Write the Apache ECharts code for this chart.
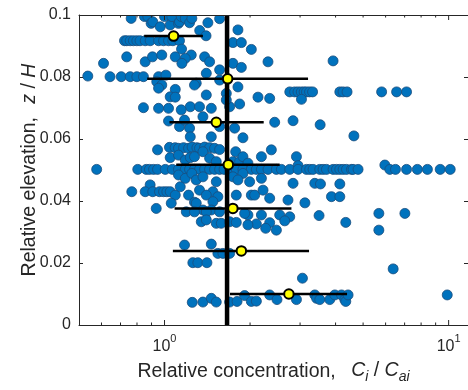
<!DOCTYPE html>
<html><head><meta charset="utf-8">
<script src="https://cdn.jsdelivr.net/npm/echarts@6/dist/echarts.min.js"></script>
<style>html,body{margin:0;padding:0;background:#fff}#c{width:468px;height:390px}</style>
</head><body><div id="c"></div>
<script>
// ---- data ----
const xMin = 0.5, xMax = 11.7;
const yMin = 0, yMax = 0.1, yStep = 0.02;
const xMajorTicks = [1, 10];
const xMinorTicks = [0.6, 0.7, 0.8, 0.9, 2, 3, 4, 5, 6, 7, 8, 9];

const ptsTop = [[0.763,0.0989],[0.850,0.0995],[0.873,0.0995],[0.897,0.0973],[0.909,0.0978],[0.966,0.0962],[1.000,0.0995],[1.047,0.0968],[1.061,0.0995],[1.120,0.0973],[1.129,0.0978],[1.145,0.0995],[1.183,0.0989],[1.225,0.0975],[1.248,0.0989],[1.330,0.0950],[1.400,0.0933],[1.421,0.0975],[1.563,0.0988],[1.813,0.0952],[1.741,0.0911],[1.864,0.0911],[2.021,0.0889]];
const pts092 = [[0.723,0.0917],[0.736,0.0917],[0.757,0.0917],[0.777,0.0917],[0.799,0.0917],[0.820,0.0917],[0.855,0.0917],[0.890,0.0917],[0.953,0.0917],[0.992,0.0917],[1.033,0.0917],[1.070,0.0917],[1.129,0.0917]];
const pts086 = [[1.148,0.0890],[1.242,0.0871],[0.736,0.0865],[0.855,0.0849],[0.907,0.0865],[0.978,0.0871],[1.091,0.0865],[1.183,0.0860],[1.151,0.0844],[0.610,0.0844],[1.384,0.0865],[1.441,0.0849],[1.741,0.0844],[1.864,0.0831],[2.313,0.0849],[1.563,0.0823],[1.403,0.0812],[1.293,0.0780],[3.920,0.0852]];
const pts076 = [[0.537,0.0803],[0.643,0.0801],[0.704,0.0801],[0.757,0.0801],[0.799,0.0801],[0.843,0.0801],[0.953,0.0801],[1.011,0.0806],[0.939,0.0785],[0.978,0.0774],[0.953,0.0764],[1.091,0.0760],[1.047,0.0736],[1.091,0.0735],[0.843,0.0701],[0.953,0.0699],[1.033,0.0699],[1.232,0.0704],[1.275,0.0774],[1.403,0.0742],[1.563,0.0790],[1.145,0.0694],[1.328,0.0704],[1.461,0.0699],[1.695,0.0704],[1.813,0.0768],[1.650,0.0747],[2.133,0.0735],[2.345,0.0731],[1.838,0.0713],[1.650,0.0726]];
const pts075R = [[2.76,0.0752],[2.87,0.0752],[2.95,0.0752],[3.03,0.0752],[3.10,0.0752],[3.16,0.0752],[3.24,0.0752],[3.32,0.0752],[3.034,0.0728],[4.14,0.0752],[4.25,0.0752],[4.39,0.0752],[5.81,0.0752],[6.56,0.0752],[7.11,0.0752]];
const pts064 = [[1.033,0.0658],[1.129,0.0640],[1.225,0.0635],[1.365,0.0672],[1.563,0.0640],[1.765,0.0635],[1.176,0.0661],[1.232,0.0607],[1.461,0.0607],[1.888,0.0604],[2.442,0.0654],[2.834,0.0659],[3.530,0.0646],[4.640,0.0610]];
const pts057 = [[0.945,0.0565],[1.041,0.0573],[1.090,0.0572],[1.120,0.0570],[1.167,0.0572],[1.215,0.0570],[1.250,0.0574],[1.300,0.0572],[1.328,0.0570],[1.384,0.0574],[1.441,0.0572],[1.500,0.0570],[1.563,0.0566],[1.780,0.0559],[2.377,0.0565]];
const pts054 = [[1.047,0.0540],[1.120,0.0548],[1.183,0.0532],[1.232,0.0540],[1.275,0.0543],[1.365,0.0559],[1.441,0.0538],[1.521,0.0527],[1.741,0.0527],[1.838,0.0527],[1.888,0.0543],[1.966,0.0522],[2.193,0.0543],[2.913,0.0543],[2.951,0.0514]];
const pts050 = [[0.577,0.0502],[0.805,0.0502],[0.862,0.0502],[0.885,0.0502],[0.915,0.0502],[0.945,0.0502],[1.006,0.0502],[1.066,0.0502],[1.120,0.0502],[1.183,0.0502],[1.225,0.0502],[1.275,0.0502],[1.328,0.0502],[1.384,0.0502],[1.441,0.0502],[1.500,0.0502],[1.563,0.0502],[1.620,0.0502],[1.700,0.0502],[1.750,0.0502],[1.789,0.0502],[1.888,0.0502],[2.021,0.0502],[2.105,0.0502],[2.193,0.0502],[2.313,0.0502],[2.476,0.0502],[2.578,0.0502],[2.759,0.0502],[2.951,0.0502],[3.159,0.0502],[3.245,0.0502],[3.333,0.0502],[3.519,0.0502],[3.614,0.0502],[3.715,0.0502],[3.920,0.0502],[4.030,0.0502],[4.140,0.0502],[4.252,0.0502],[4.370,0.0502],[4.550,0.0502],[4.610,0.0502],[4.800,0.0502],[5.964,0.0516],[6.21,0.0502],[6.50,0.0502],[7.11,0.0502],[7.76,0.0502],[8.42,0.0502],[9.34,0.0502],[10.13,0.0502]];
const pts047 = [[1.120,0.0484],[1.183,0.0473],[1.248,0.0489],[1.741,0.0478],[1.888,0.0489],[1.993,0.0462],[2.193,0.0473],[2.834,0.0457],[1.293,0.0468],[1.365,0.0478],[1.521,0.0462],[3.380,0.0457],[3.539,0.0455],[4.140,0.0455],[1.813,0.0468]];
const pts043 = [[0.890,0.0452],[0.767,0.0430],[0.855,0.0430],[0.909,0.0430],[0.960,0.0430],[0.992,0.0430],[1.019,0.0430],[1.047,0.0430],[1.091,0.0419],[1.136,0.0446],[1.215,0.0419],[1.328,0.0435],[1.480,0.0430],[1.541,0.0414],[1.403,0.0419],[1.789,0.0419],[2.021,0.0419],[2.076,0.0419],[2.222,0.0435],[2.345,0.0409],[2.720,0.0403],[3.120,0.0394],[1.275,0.0396],[1.480,0.0398],[3.869,0.0414],[4.140,0.0414]];
const pts035 = [[0.935,0.0376],[1.056,0.0393],[1.193,0.0365],[1.293,0.0393],[1.365,0.0371],[1.347,0.0333],[1.461,0.0371],[1.521,0.0328],[1.584,0.0328],[1.695,0.0333],[1.563,0.0365],[1.403,0.0365],[1.275,0.0365],[1.966,0.0355],[2.193,0.0355],[2.543,0.0355],[2.759,0.0349],[1.403,0.0339],[3.499,0.0353],[5.681,0.0360],[7.015,0.0360],[5.681,0.0306],[4.345,0.0331],[2.649,0.0336],[2.345,0.0330],[2.270,0.0312],[2.476,0.0306],[2.105,0.0326],[1.966,0.0323],[1.914,0.0360],[1.789,0.0331]];
const ptsLow = [[1.176,0.0258],[1.461,0.0261],[1.258,0.0201],[1.310,0.0201],[1.410,0.0201],[1.541,0.0231],[1.605,0.0231],[1.695,0.0231],[6.379,0.0181],[3.058,0.0151]];
const ptsBottom = [[1.252,0.0073],[1.365,0.0074],[1.461,0.0086],[1.521,0.0074],[1.695,0.0074],[1.800,0.0076],[1.914,0.0095],[2.021,0.0076],[2.105,0.0077],[2.345,0.0097],[2.488,0.0082],[2.913,0.0082],[3.380,0.0097],[3.430,0.0086],[3.519,0.0082],[3.816,0.0082],[3.975,0.0097],[4.197,0.0097],[4.311,0.0082],[4.345,0.0076],[4.427,0.0097],[9.888,0.0097]];

const meanConc = [1.076, 1.668, 1.521, 1.677, 1.740, 1.864, 2.740];
const meanElev = [0.0932, 0.0794, 0.0654, 0.0517, 0.0376, 0.0239, 0.0100];
const errLow   = [0.848, 0.869, 1.041, 1.100, 1.085, 1.070, 1.700];
const errHigh  = [1.365, 3.200, 2.234, 2.543, 2.797, 3.226, 4.390];
const refConc = 1.66;

// ---- chart ----
const FONT = '"Liberation Sans", Arial, Helvetica, sans-serif';
const TXT = '#262626';
const AX = '#262626';

const samples = [].concat(ptsTop, pts092, pts086, pts076, pts075R, pts064, pts057, pts054, pts050, pts047, pts043, pts035, ptsLow, ptsBottom);
const means = meanConc.map((c, i) => [c, meanElev[i]]);
const bars = meanElev.map((y, i) => [errLow[i], errHigh[i], y]);

function tickSeries(vals, len) {
  return {
    type: 'custom', coordinateSystem: 'cartesian2d', silent: true, z: 8,
    data: vals.map(v => [v, yMin]),
    renderItem: function (params, api) {
      const v = api.value(0);
      const b = api.coord([v, yMin]);
      const t = api.coord([v, yMax]);
      const st = { stroke: AX, lineWidth: 1 };
      return { type: 'group', children: [
        { type: 'line', shape: { x1: b[0], y1: b[1], x2: b[0], y2: b[1] - len }, style: st },
        { type: 'line', shape: { x1: t[0], y1: t[1], x2: t[0], y2: t[1] + len }, style: st }
      ]};
    }
  };
}

const chart = echarts.init(document.getElementById('c'), null, { renderer: 'canvas' });
chart.setOption({
  animation: false,
  backgroundColor: '#fff',
  textStyle: { fontFamily: FONT },
  grid: { left: 79, top: 15, right: 0, bottom: 65, containLabel: false },
  xAxis: [
    {
      type: 'log', logBase: 10, min: xMin, max: xMax, position: 'bottom', z: 9,
      axisLine: { show: true, onZero: false, lineStyle: { color: AX, width: 1 } },
      axisTick: { show: false }, minorTick: { show: false }, splitLine: { show: false },
      axisLabel: {
        margin: 8, showMinLabel: false, showMaxLabel: false, color: TXT, fontFamily: FONT,
        formatter: function (v) {
          const l = Math.log10(v);
          if (Math.abs(l - Math.round(l)) < 1e-6) return '{b|10}{s|' + Math.round(l) + '}';
          return '';
        },
        rich: {
          b: { fontSize: 16, color: TXT, fontFamily: FONT, padding: [6, 0, 0, 0], verticalAlign: 'top', lineHeight: 16 },
          s: { fontSize: 11, color: TXT, fontFamily: FONT, verticalAlign: 'top', lineHeight: 11 }
        }
      },
      name: 'Relative concentration, {c|C}{sub|i}{n| / }{i|C}{sub|ai}',
      nameLocation: 'middle', nameGap: 36, nameMoveOverlap: false,
      nameTextStyle: {
        fontSize: 19.5, color: TXT, fontFamily: FONT, verticalAlign: 'top', lineHeight: 22,
        rich: {
          c: { fontSize: 19.5, fontStyle: 'italic', color: TXT, fontFamily: FONT, padding: [0, 0, 0, 10], lineHeight: 22, verticalAlign: 'top' },
          i: { fontSize: 19.5, fontStyle: 'italic', color: TXT, fontFamily: FONT, lineHeight: 22, verticalAlign: 'top' },
          n: { fontSize: 19.5, color: TXT, fontFamily: FONT, lineHeight: 22, verticalAlign: 'top' },
          sub: { fontSize: 14, fontStyle: 'italic', color: TXT, fontFamily: FONT, padding: [9, 0, 0, 0], lineHeight: 16, verticalAlign: 'top' }
        }
      }
    },
    {
      type: 'log', logBase: 10, min: xMin, max: xMax, position: 'top', z: 9,
      axisLine: { show: true, onZero: false, lineStyle: { color: AX, width: 1 } },
      axisTick: { show: false }, axisLabel: { show: false }, splitLine: { show: false }
    }
  ],
  yAxis: [
    {
      type: 'value', min: yMin, max: yMax, interval: yStep, position: 'left', z: 9,
      axisLine: { show: true, onZero: false, lineStyle: { color: AX, width: 1 } },
      axisTick: { show: true, inside: true, length: 4, lineStyle: { color: AX, width: 1 } },
      axisLabel: { color: TXT, fontSize: 16, fontFamily: FONT, margin: 8 },
      splitLine: { show: false },
      name: 'Relative elevation, {z|z} / {i|H}',
      nameLocation: 'middle', nameGap: 39, nameMoveOverlap: false,
      nameTextStyle: {
        fontSize: 19.5, color: TXT, fontFamily: FONT,
        rich: {
          z: { fontSize: 19.5, fontStyle: 'italic', color: TXT, fontFamily: FONT, padding: [0, 0, 0, 8] },
          i: { fontSize: 19.5, fontStyle: 'italic', color: TXT, fontFamily: FONT }
        }
      }
    },
    {
      type: 'value', min: yMin, max: yMax, interval: yStep, position: 'right', z: 9,
      axisLine: { show: false },
      axisTick: { show: true, inside: true, length: 4, lineStyle: { color: AX, width: 1 } },
      axisLabel: { show: false }, splitLine: { show: false }
    }
  ],
  series: [
    {
      type: 'custom', coordinateSystem: 'cartesian2d', silent: true, z: 2, clip: true,
      data: samples,
      renderItem: function (params, api) {
        const p = api.coord([api.value(0), api.value(1)]);
        return { type: 'circle', shape: { cx: p[0], cy: p[1], r: 5 },
                 style: { fill: '#0072BD', stroke: '#1b4d7c', lineWidth: 0.8 } };
      }
    },
    {
      type: 'line', data: [[refConc, yMin], [refConc, yMax]], symbol: 'none', z: 3, silent: true,
      lineStyle: { color: '#000', width: 4.5 }
    },
    {
      type: 'custom', coordinateSystem: 'cartesian2d', silent: true, z: 4,
      data: bars,
      renderItem: function (params, api) {
        const y = api.value(2);
        const a = api.coord([api.value(0), y]);
        const b = api.coord([api.value(1), y]);
        return { type: 'line', shape: { x1: a[0], y1: a[1], x2: b[0], y2: b[1] }, style: { stroke: '#000', lineWidth: 2.5 } };
      }
    },
    {
      type: 'scatter', data: means, symbol: 'circle', symbolSize: 9.5, z: 5, silent: true,
      itemStyle: { color: '#FFFF00', borderColor: '#000', borderWidth: 2, opacity: 1 }
    },
    tickSeries(xMajorTicks, 5),
    tickSeries(xMinorTicks, 2.5)
  ]
});
</script>
</body></html>
